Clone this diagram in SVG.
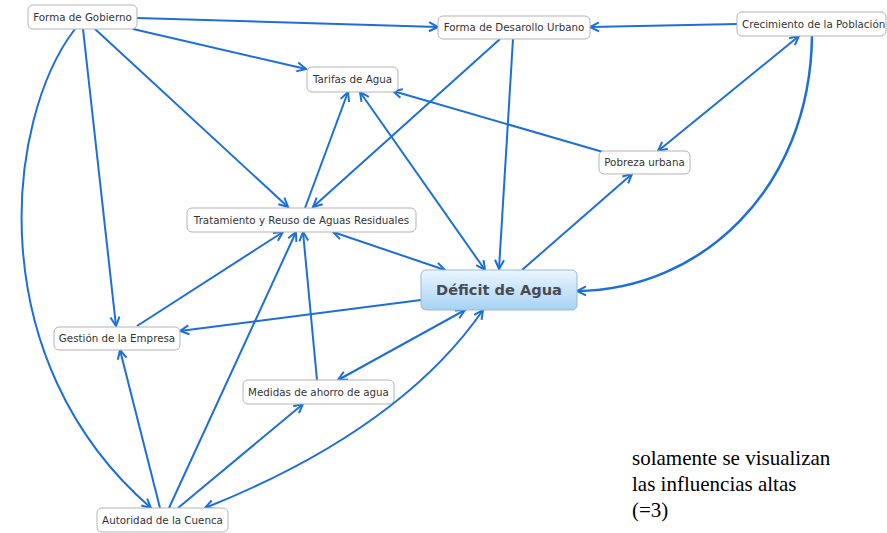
<svg xmlns="http://www.w3.org/2000/svg" width="887" height="533" viewBox="0 0 887 533">
<style>
.box{fill:#fff;stroke:#b4b4b4;stroke-width:1}
.lbl{font-family:"DejaVu Sans",Verdana,sans-serif;font-size:10.3px;fill:#333;text-anchor:middle}
.big{font-family:"DejaVu Sans",Verdana,sans-serif;font-size:14.6px;font-weight:bold;fill:#4a4a52;text-anchor:middle}
.c{fill:none;stroke:#1c6fd8;stroke-width:2;marker-end:url(#a)}
.b{marker-start:url(#a)}
.note{font-family:"Liberation Serif","Times New Roman",serif;font-size:21px;fill:#000}
</style>
<defs>
<marker id="a" markerUnits="userSpaceOnUse" viewBox="-1 -6 12 12" refX="9" refY="0" markerWidth="12" markerHeight="12" orient="auto-start-reverse">
<path d="M0,-4.5 L9,0 L0,4.5" fill="none" stroke="#1c6fd8" stroke-width="2"/>
</marker>
<linearGradient id="g" x1="0" y1="0" x2="0" y2="1">
<stop offset="0" stop-color="#ecf6fe"/>
<stop offset="1" stop-color="#a6d2f5"/>
</linearGradient>
</defs>
<g id="connectors">
<path class="c" d="M137,18 L438,27"/>
<path class="c" d="M133,29 L306,69"/>
<path class="c" d="M95,29 L288,207"/>
<path class="c" d="M83,29 L116,326"/>
<path class="c" d="M75,29 C5,120 -20,360 151,508"/>
<path class="c" d="M500,39 L313,207"/>
<path class="c" d="M513,39 L499,269"/>
<path class="c" d="M737,24 L590,27"/>
<path class="c b" d="M799,36 L658,151"/>
<path class="c" style="stroke-width:2.5" d="M812,36 C810,190 700,290 577,291"/>
<path class="c" d="M603,152 L393,91"/>
<path class="c" d="M522,270 L632,174"/>
<path class="c" d="M305,208 L348,92"/>
<path class="c b" d="M360,92 L485,270"/>
<path class="c b" d="M333,232 L445,270"/>
<path class="c" d="M137,326 L283,232"/>
<path class="c" d="M169,508 L296,232"/>
<path class="c" d="M317,380 L303,232"/>
<path class="c" d="M421,300 L180,331"/>
<path class="c b" d="M465,310 L338,380"/>
<path class="c b" d="M483,310 Q400,430 205,508"/>
<path class="c" d="M160,508 L120,350"/>
<path class="c" d="M178,508 L303,404"/>
</g>
<g id="forma-gobierno"><rect class="box" x="28" y="5" width="109" height="24" rx="5"/><text class="lbl" x="82.5" y="20.6">Forma de Gobierno</text></g>
<g id="forma-desarollo"><rect class="box" x="438" y="16" width="152" height="23" rx="5"/><text class="lbl" x="514" y="31.1">Forma de Desarollo Urbano</text></g>
<g id="crecimiento"><rect class="box" x="737" y="12" width="149" height="24" rx="5"/><text class="lbl" x="742" y="27.6" style="text-anchor:start">Crecimiento de la Población</text></g>
<g id="tarifas"><rect class="box" x="307" y="67" width="91" height="25" rx="5"/><text class="lbl" x="352.5" y="83.1">Tarifas de Agua</text></g>
<g id="pobreza"><rect class="box" x="599" y="151" width="91" height="23" rx="5"/><text class="lbl" x="644.5" y="166.1">Pobreza urbana</text></g>
<g id="tratamiento"><rect class="box" x="187" y="208" width="229" height="24" rx="5"/><text class="lbl" x="301.5" y="223.6">Tratamiento y Reuso de Aguas Residuales</text></g>
<g id="deficit"><rect x="421" y="270" width="156" height="40" rx="5" fill="url(#g)" stroke="#9cb9d2"/><text class="big" x="499" y="295.3">Déficit de Agua</text></g>
<g id="gestion"><rect class="box" x="54" y="327" width="126" height="23" rx="5"/><text class="lbl" x="117" y="342.1">Gestión de la Empresa</text></g>
<g id="medidas"><rect class="box" x="243" y="380" width="151" height="24" rx="5"/><text class="lbl" x="318.5" y="395.6">Medidas de ahorro de agua</text></g>
<g id="autoridad"><rect class="box" x="97" y="508" width="131" height="24" rx="5"/><text class="lbl" x="162.5" y="523.6">Autoridad de la Cuenca</text></g>
<g id="nota"><text class="note" x="632" y="465">solamente se visualizan</text><text class="note" x="632" y="491">las influencias altas</text><text class="note" x="632" y="517">(=3)</text></g>
</svg>
